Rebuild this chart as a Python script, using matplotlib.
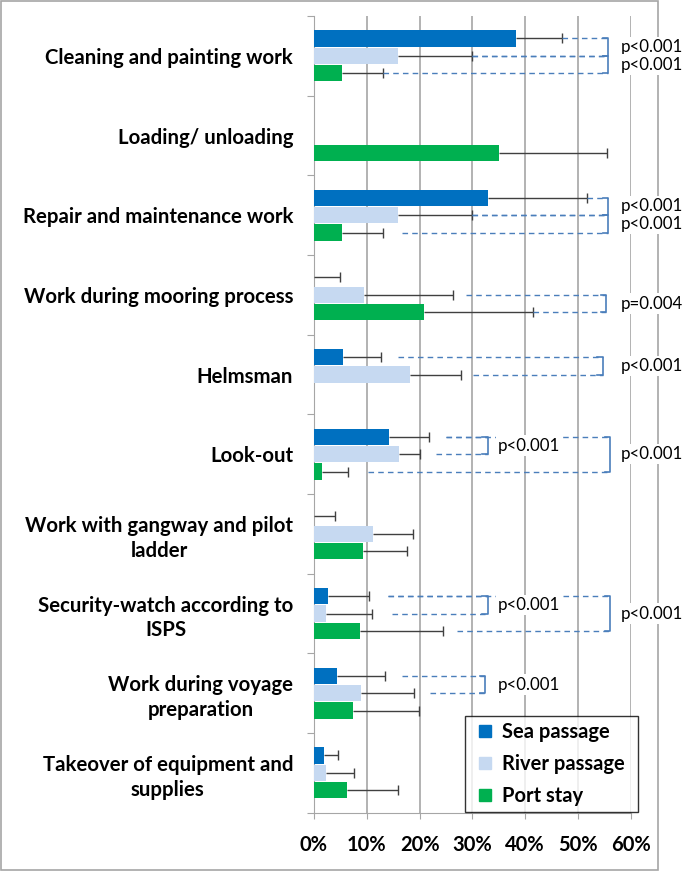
import numpy as np
import matplotlib
matplotlib.use("Agg")
import matplotlib.pyplot as plt
from matplotlib.patches import Rectangle
from matplotlib.lines import Line2D

plt.rcParams['font.family'] = ['Lato', 'DejaVu Sans']

categories = ["Cleaning and painting work", "Loading/ unloading",
              "Repair and maintenance work", "Work during mooring process",
              "Helmsman", "Look-out",
              "Work with gangway and pilot\nladder",
              "Security-watch according to\nISPS",
              "Work during voyage\npreparation",
              "Takeover of equipment and\nsupplies"]
series = ["Sea passage", "River passage", "Port stay"]
colors = ["#0070C0", "#C6D9F1", "#00B050"]

# percent values, nan = no bar
sea = [38.3, np.nan, 33.0, 0.0, 5.4, 14.3, 0.0, 2.7, 4.3, 1.9]
river = [15.9, np.nan, 15.9, 9.4, 18.1, 16.1, 11.2, 2.3, 8.9, 2.2]
port = [5.3, 35.1, 5.3, 20.9, np.nan, 1.6, 9.3, 8.7, 7.4, 6.3]
sea_err = [8.7, np.nan, 18.7, 4.9, 7.3, 7.5, 4.0, 7.8, 9.2, 2.6]
river_err = [14.1, np.nan, 14.1, 17.0, 9.8, 4.0, 7.6, 8.6, 10.1, 5.3]
port_err = [7.8, 20.5, 7.8, 20.6, np.nan, 4.9, 8.4, 15.8, 12.5, 9.6]
xticks = [0, 10, 20, 30, 40, 50, 60]

# significance brackets: category, series a, series b, dashed start a, dashed start b, bracket x, label, label x
brackets = [
    (0, 0, 1, 47.0, 30.0, 55.7, "p<0.001", 58.2),
    (0, 1, 2, 30.0, 13.1, 55.7, "p<0.001", 58.2),
    (2, 0, 1, 51.7, 30.0, 55.7, "p<0.001", 58.2),
    (2, 1, 2, 30.0, 16.6, 55.7, "p<0.001", 58.2),
    (3, 1, 2, 28.8, 41.5, 55.3, "p=0.004", 58.2),
    (4, 0, 1, 16.0, 30.2, 54.7, "p<0.001", 58.2),
    (5, 0, 1, 25.0, 23.1, 32.9, "p<0.001", 34.9),
    (5, 0, 2, 25.0, 10.3, 56.1, "p<0.001", 58.2),
    (7, 0, 1, 14.1, 14.8, 32.9, "p<0.001", 34.9),
    (7, 0, 2, 14.1, 27.1, 56.1, "p<0.001", 58.2),
    (8, 0, 1, 16.6, 22.0, 32.4, "p<0.001", 34.9),
]

W, H = 685, 871
fig = plt.figure(figsize=(W / 100, H / 100), dpi=100)
ax = fig.add_axes([314 / W, 58.3 / H, 316.7 / W, 796.7 / H])

fig.patches.append(Rectangle((1 / W, 1 / H), 657 / W, 869 / H, transform=fig.transFigure,
                             facecolor="white", edgecolor="#A6A6A6", lw=1.2, zorder=-5))

y = np.arange(len(categories)) + 0.5
offsets = [-0.218, 0.0, 0.218]
vals = [sea, river, port]
errs = [sea_err, river_err, port_err]
for k in range(3):
    yy = y + offsets[k]
    v = np.array(vals[k])
    e = np.array(errs[k])
    ax.barh(yy, v, height=0.205, color=colors[k], zorder=3)
    ok = ~np.isnan(e)
    ends = np.nan_to_num(v) + e
    ax.hlines(yy[ok], np.nan_to_num(v)[ok], ends[ok], color="#404040", lw=1.0, zorder=4)
    ax.plot(ends[ok], yy[ok], ls="none", marker="|", ms=7, mew=1.0, color="#404040", zorder=4)

def ypos(c, s):
    return y[c] + offsets[s]

bcol = "#4A7EBB"
for c, a, b, xa, xb, xbr, lab, xl in brackets:
    ya, yb = ypos(c, a), ypos(c, b)
    ax.hlines([ya], xa, xbr, color=bcol, lw=1.0, ls=(0, (4, 3)), zorder=5, clip_on=False)
    ax.hlines([yb], xb, xbr, color=bcol, lw=1.0, ls=(0, (4, 3)), zorder=5, clip_on=False)
    ax.plot([xbr - 1.0, xbr, xbr, xbr - 1.0], [ya, ya, yb, yb], color=bcol, lw=1.2,
            zorder=5, clip_on=False)
    ax.text(xl, (ya + yb) / 2, lab, fontsize=12.2, va="center", ha="left", zorder=6,
            clip_on=False, bbox=dict(facecolor="white", edgecolor="none", pad=1.5))

ax.set_xlim(0, 60)
ax.set_ylim(len(categories), 0)
ax.set_xticks(xticks)
ax.set_xticklabels([f"{t}%" for t in xticks], fontsize=14.5, fontweight="bold")
ax.tick_params(axis="x", length=4, color="#A6A6A6", pad=12)
ax.set_yticks(np.arange(len(categories) + 1))
ax.set_yticklabels([])
ax.set_yticks(y, minor=True)
ax.set_yticklabels(categories, minor=True, fontsize=14.7, fontweight="bold",
                   multialignment="center", linespacing=1.3)
ax.tick_params(axis="y", which="major", length=5, color="#A6A6A6")
ax.tick_params(axis="y", which="minor", length=0, pad=15)
ax.grid(axis="x", color="#A6A6A6", lw=1.2, zorder=0)
ax.set_axisbelow(True)
for s in ["top", "right"]:
    ax.spines[s].set_visible(False)
for s in ["left", "bottom"]:
    ax.spines[s].set_color("#A6A6A6")

handles = [Line2D([], [], ls="none", marker="s", ms=9, color=c) for c in colors]
leg = ax.legend(handles, series, loc="lower left",
                bbox_to_anchor=(465 / W, (H - 812) / H, 173 / W, 96 / H),
                bbox_transform=fig.transFigure, mode="expand", frameon=True, fancybox=False,
                prop=dict(size=14.5, weight="bold"), handlelength=1.4,
                handletextpad=0.15, labelspacing=0.6, borderpad=0.3, borderaxespad=0)
leg.get_frame().set_edgecolor("black")
leg.get_frame().set_linewidth(1.0)
leg.set_zorder(10)

fig.savefig("out.png", dpi=100)
